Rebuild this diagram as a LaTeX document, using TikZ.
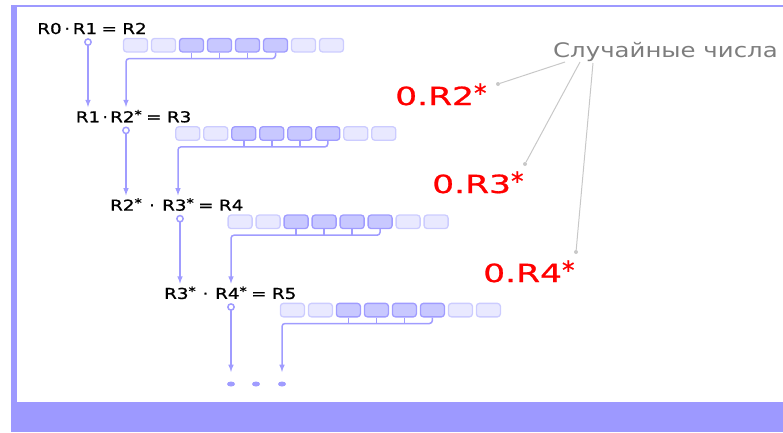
\documentclass[tikz,border=0pt]{standalone}
\usepackage{fontspec}
\setmainfont{DejaVu Sans}
\newfontfamily\heavy[FakeBold=0.8]{DejaVu Sans}
\usepackage{graphicx}
\usetikzlibrary{arrows,calc,shapes,positioning}
\tikzset{>=latex}
\definecolor{framecol}{RGB}{157,153,255}
\definecolor{linkcol}{RGB}{160,156,255}
\definecolor{cellfill}{RGB}{233,233,255}
\definecolor{celledge}{RGB}{204,204,255}
\definecolor{markfill}{RGB}{200,200,255}
\definecolor{markedge}{RGB}{160,156,255}
\definecolor{labelgray}{RGB}{125,125,125}
\definecolor{pointergray}{RGB}{200,200,200}
\newcommand{\wide}[2][1.22]{\scalebox{#1}[1]{#2}}
\newcommand{\rstar}{\raisebox{3.5pt}{\fontsize{12}{12}\selectfont *}}

\begin{document}
\begin{tikzpicture}[x=1pt,y=-1pt,
    tok/.style={inner sep=0pt, text height=11pt, text depth=0pt, font=\heavy\fontsize{15}{15}\selectfont},
    cell/.style={draw=celledge, fill=cellfill, rounded corners=3pt, line width=1.3pt, minimum width=24pt, minimum height=13.5pt, inner sep=0pt},
    markcell/.style={cell, draw=markedge, fill=markfill},
    link/.style={linkcol, line width=1.5pt},
    dotend/.style={ellipse, fill=linkcol, minimum width=8pt, minimum height=5pt, inner sep=0pt, outer sep=5.5pt},
    rand/.style={red, inner sep=0pt, anchor=base west, font=\heavy\fontsize{25}{25}\selectfont},
    gdot/.style={circle, fill=pointergray, minimum size=4pt, inner sep=0pt}]
  \useasboundingbox (0,0) rectangle (783,432);
  % frame
  \fill[framecol] (11,5) rectangle (783,7);
  \fill[framecol] (11,5) rectangle (17,432);
  \fill[framecol] (11,402) rectangle (783,432);

  % dots at the end
  \node[dotend] (a5) at (231,384) {};
  \node[dotend] (m5) at (256,384) {};
  \node[dotend] (b5) at (282,384) {};

  % rows of products
  \foreach \k/\a/\b/\c/\xa/\xb in {1/R0/R1/R2/49.5/85, 2/R1/R2\rstar/R3/88/126, 3/R2\rstar/R3\rstar/R4/126/178, 4/R3\rstar/R4\rstar/R5/180/231}{
    \node[tok] (a\k) at (\xa,{28.5+88.3*(\k-1)}) {\wide{\a}};
    \node[tok] (b\k) at (\xb,{28.5+88.3*(\k-1)}) {\wide{\b}};
    \node[tok] (d\k) at ($(a\k.east)!0.5!(b\k.west)$) {·};
    \node[tok, right=4pt of b\k] (e\k) {\wide{=}};
    \node[tok, right=5pt of e\k] (c\k) {\wide{\c}};
    \foreach \i in {1,2,7,8}
      \node[cell] (cell\k-\i) at ({135.5+52.3*(\k-1)+28*(\i-1)},{45.2+88.3*(\k-1)}) {};
    \foreach \i in {3,...,6}
      \node[markcell] (cell\k-\i) at ({135.5+52.3*(\k-1)+28*(\i-1)},{45.2+88.3*(\k-1)}) {};
  }

  % connections
  \foreach \k [evaluate=\k as \n using int(\k+1)] in {1,...,4}{
    \draw[link, o->, shorten <=4pt, shorten >=4pt] (b\k.south -| a\n) -- (a\n.north);
    \foreach \i in {3,4,5}
      \draw[link] (cell\k-\i.south) -- ++(0,6);
    \draw[link, ->, rounded corners=3pt, shorten >=4pt] (cell\k-6.south) -- ++(0,6) -| (b\n.north);
  }

  % random numbers
  \node[rand] (r2) at (395,105) {\wide[1.38]{0.R2}\raisebox{3pt}{*}};
  \node[rand] (r3) at (432,193) {\wide[1.38]{0.R3}\raisebox{3pt}{*}};
  \node[rand] (r4) at (483,282) {\wide[1.38]{0.R4}\raisebox{3pt}{*}};
  \node[labelgray, inner sep=0pt, anchor=base west, font=\fontsize{20}{20}\selectfont] (lbl) at (553,57) {\wide[1.22]{Случайные числа}};
  \node[gdot] (g2) at (498,84) {};
  \node[gdot] (g3) at (525,164) {};
  \node[gdot] (g4) at (576,252) {};
  \draw[pointergray, line width=1pt] ($(lbl.base west)+(12,5)$) -- (g2);
  \draw[pointergray, line width=1pt] ($(lbl.base west)+(27,5)$) -- (g3);
  \draw[pointergray, line width=1pt] ($(lbl.base west)+(40,6)$) -- (g4);
\end{tikzpicture}
\end{document}
